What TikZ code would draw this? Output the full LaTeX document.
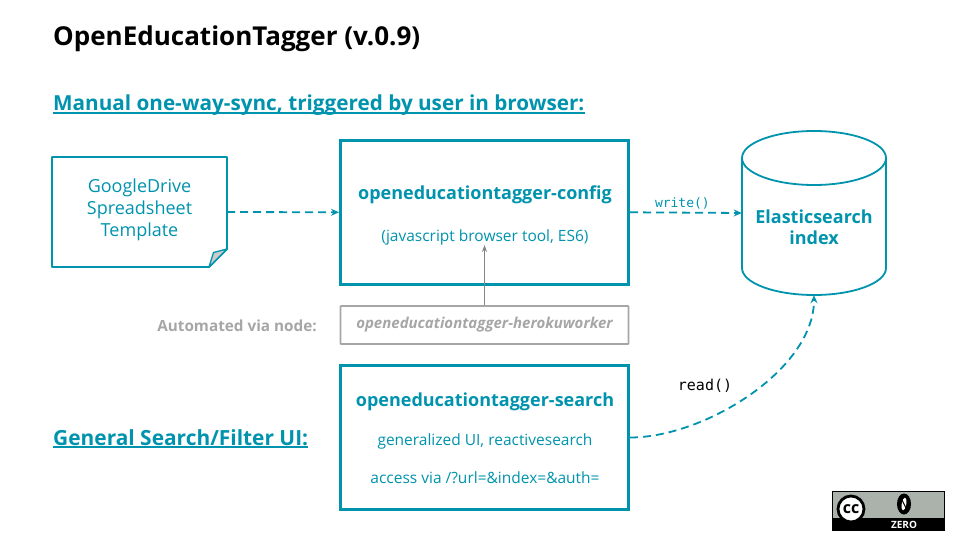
\documentclass[tikz,border=0pt]{standalone}
\usepackage{fontspec}
\setmainfont{Open Sans}
\setmonofont{DejaVu Sans Mono}
\usetikzlibrary{positioning, arrows.meta, shapes.geometric, calc}
\definecolor{oetblue}{HTML}{0093AD}
\definecolor{oetgray}{HTML}{A6A6A6}
\definecolor{badgegray}{HTML}{AAB2AB}
\newcommand{\fsz}[1]{\fontsize{#1}{#1}\selectfont}

\begin{document}
\begin{tikzpicture}[
  x=1pt, y=-1pt,
  title/.style={anchor=base west, inner sep=0pt, font=\fsz{26}\bfseries},
  heading/.style={anchor=base west, inner sep=0pt, text=oetblue, font=\fsz{20.8}\bfseries},
  uline/.style={oetblue, line width=1.5pt},
  mainbox/.style={rectangle, draw=oetblue, line width=3pt, fill=white, minimum width=288pt, minimum height=144pt},
  workerbox/.style={rectangle, draw=oetgray, line width=1.6pt, rounded corners=0.5pt, minimum width=288pt, minimum height=38pt, text=oetgray, font=\fsz{15}\bfseries\itshape},
  txt/.style={inner sep=0pt, text=oetblue, align=center},
  mono/.style={inner sep=0pt, font=\fsz{13}\ttfamily},
  arr/.style={-{Stealth[length=8pt, width=7pt]}, oetblue, line width=1.8pt, dash pattern=on 8pt off 5pt},
  garr/.style={-{Stealth[length=7pt, width=5pt]}, oetgray!80!black, line width=1pt}
]
  \useasboundingbox (0,0) rectangle (960,540);
  \node[title] (title) at (53,46) {OpenEducationTagger (v.0.9)};
  \node[heading, font=\fsz{20.7}\bfseries] (h1) at (53,111) {Manual one-way-sync, triggered by user in browser:};
  \node[heading, font=\fsz{20.9}\bfseries] (h2) at (53,445) {General Search/Filter UI:};
  \draw[uline] ([yshift=-2.2pt]h1.base west) -- ([yshift=-2.2pt]h1.base east);
  \draw[uline] ([yshift=-2.2pt]h2.base west) -- ([yshift=-2.2pt]h2.base east);

  % spreadsheet
  \coordinate (tl) at (52,157);
  \coordinate (tr) at (227,157);
  \coordinate (br) at (227,249);
  \coordinate (bl) at (52,267);
  \coordinate (fold) at (209,267);
  \coordinate (inner) at (213.5,252.5);
  \draw[oetblue, line width=1.8pt, line join=round] (tl) -- (tr) -- (br) -- (fold) -- (bl) -- cycle;
  \draw[oetblue, line width=1.3pt, line join=round, fill=gray!40] (fold) -- (inner) -- (br) -- cycle;
  \node[txt, font=\fsz{18}] (sheet) at (139.5,210) {GoogleDrive\\[4pt]Spreadsheet\\[4pt]Template};
  \coordinate (sheete) at (227,212);

  % boxes
  \node[mainbox] (config) at (484.5,212.3) {};
  \node[txt, font=\fsz{18}\bfseries] (configname) at (485,195) {openeducationtagger-config};
  \node[txt, font=\fsz{15.5}] (configsub) at (485,237) {(javascript browser tool, ES6)};

  \node[workerbox] (worker) at (484.5,325) {openeducationtagger-herokuworker};
  \node[anchor=east, inner sep=0pt, text=oetgray, font=\fsz{15.3}\bfseries] (autolabel) at (317,326) {Automated via node:};

  \node[mainbox] (search) at (484.5,437.5) {};
  \node[txt, font=\fsz{18}\bfseries] (searchname) at (485,402) {openeducationtagger-search};
  \node[txt, font=\fsz{15.5}] (searchsub) at (485,441) {generalized UI, reactivesearch};
  \node[txt, font=\fsz{15.5}] (searchurl) at (485,478) {access via /?url=\&index=\&auth=};

  % index
  \node[rectangle, minimum width=144pt, minimum height=164pt, inner sep=0pt] (index) at (814,213) {};
  \draw[oetblue, line width=1.8pt] (742,158) -- (742,268) arc[start angle=180, end angle=360, x radius=72pt, y radius=27pt] -- (886,158);
  \draw[oetblue, line width=1.8pt] (814,158) ellipse [x radius=72pt, y radius=27pt];
  \node[txt, font=\fsz{18}\bfseries] (indexname) at (814,227) {Elasticsearch\\[3pt]index};

  % connectors
  \draw[arr] (sheete) -- (config.west);
  \draw[arr] (config.east) -- node[mono, above=3pt, xshift=-3.5pt] (write) {write()} (index.west);
  \draw[garr] (worker.north) -- (worker.north |- configsub.south);
  \draw[arr] (search.east) to[out=0, in=-90, looseness=0.82] (index.south);
  \node[mono, font=\fsz{15}\ttfamily] (read) at (705,386) {read()};

  % badge
  \node[rectangle, fill=black, minimum width=113pt, minimum height=40pt, inner sep=0pt] (badge) at (888.5,511) {};
  \node[rectangle, fill=badgegray, minimum width=111pt, minimum height=26pt, inner sep=0pt] (badgetop) at (888.5,505) {};
  \node[circle, draw=black, line width=2.8pt, fill=white, minimum size=26pt, inner sep=0pt, font=\fsz{16}\bfseries] (cc) at (851,509) {cc};
  \node[ellipse, fill=black, minimum width=14pt, minimum height=21pt, inner sep=0pt] (zero) at (904,504) {};
  \node[ellipse, fill=white, rotate=-10, minimum width=4.5pt, minimum height=13pt, inner sep=0pt] (zeroinner) at (zero) {};
  \draw[black, line width=1pt] ([shift={(-2,-4)}]zero.center) -- ([shift={(2,4)}]zero.center);
  \node[inner sep=0pt, text=white, font=\fsz{10}\bfseries] (zerolabel) at (904,524.5) {ZERO};
\end{tikzpicture}
\end{document}
